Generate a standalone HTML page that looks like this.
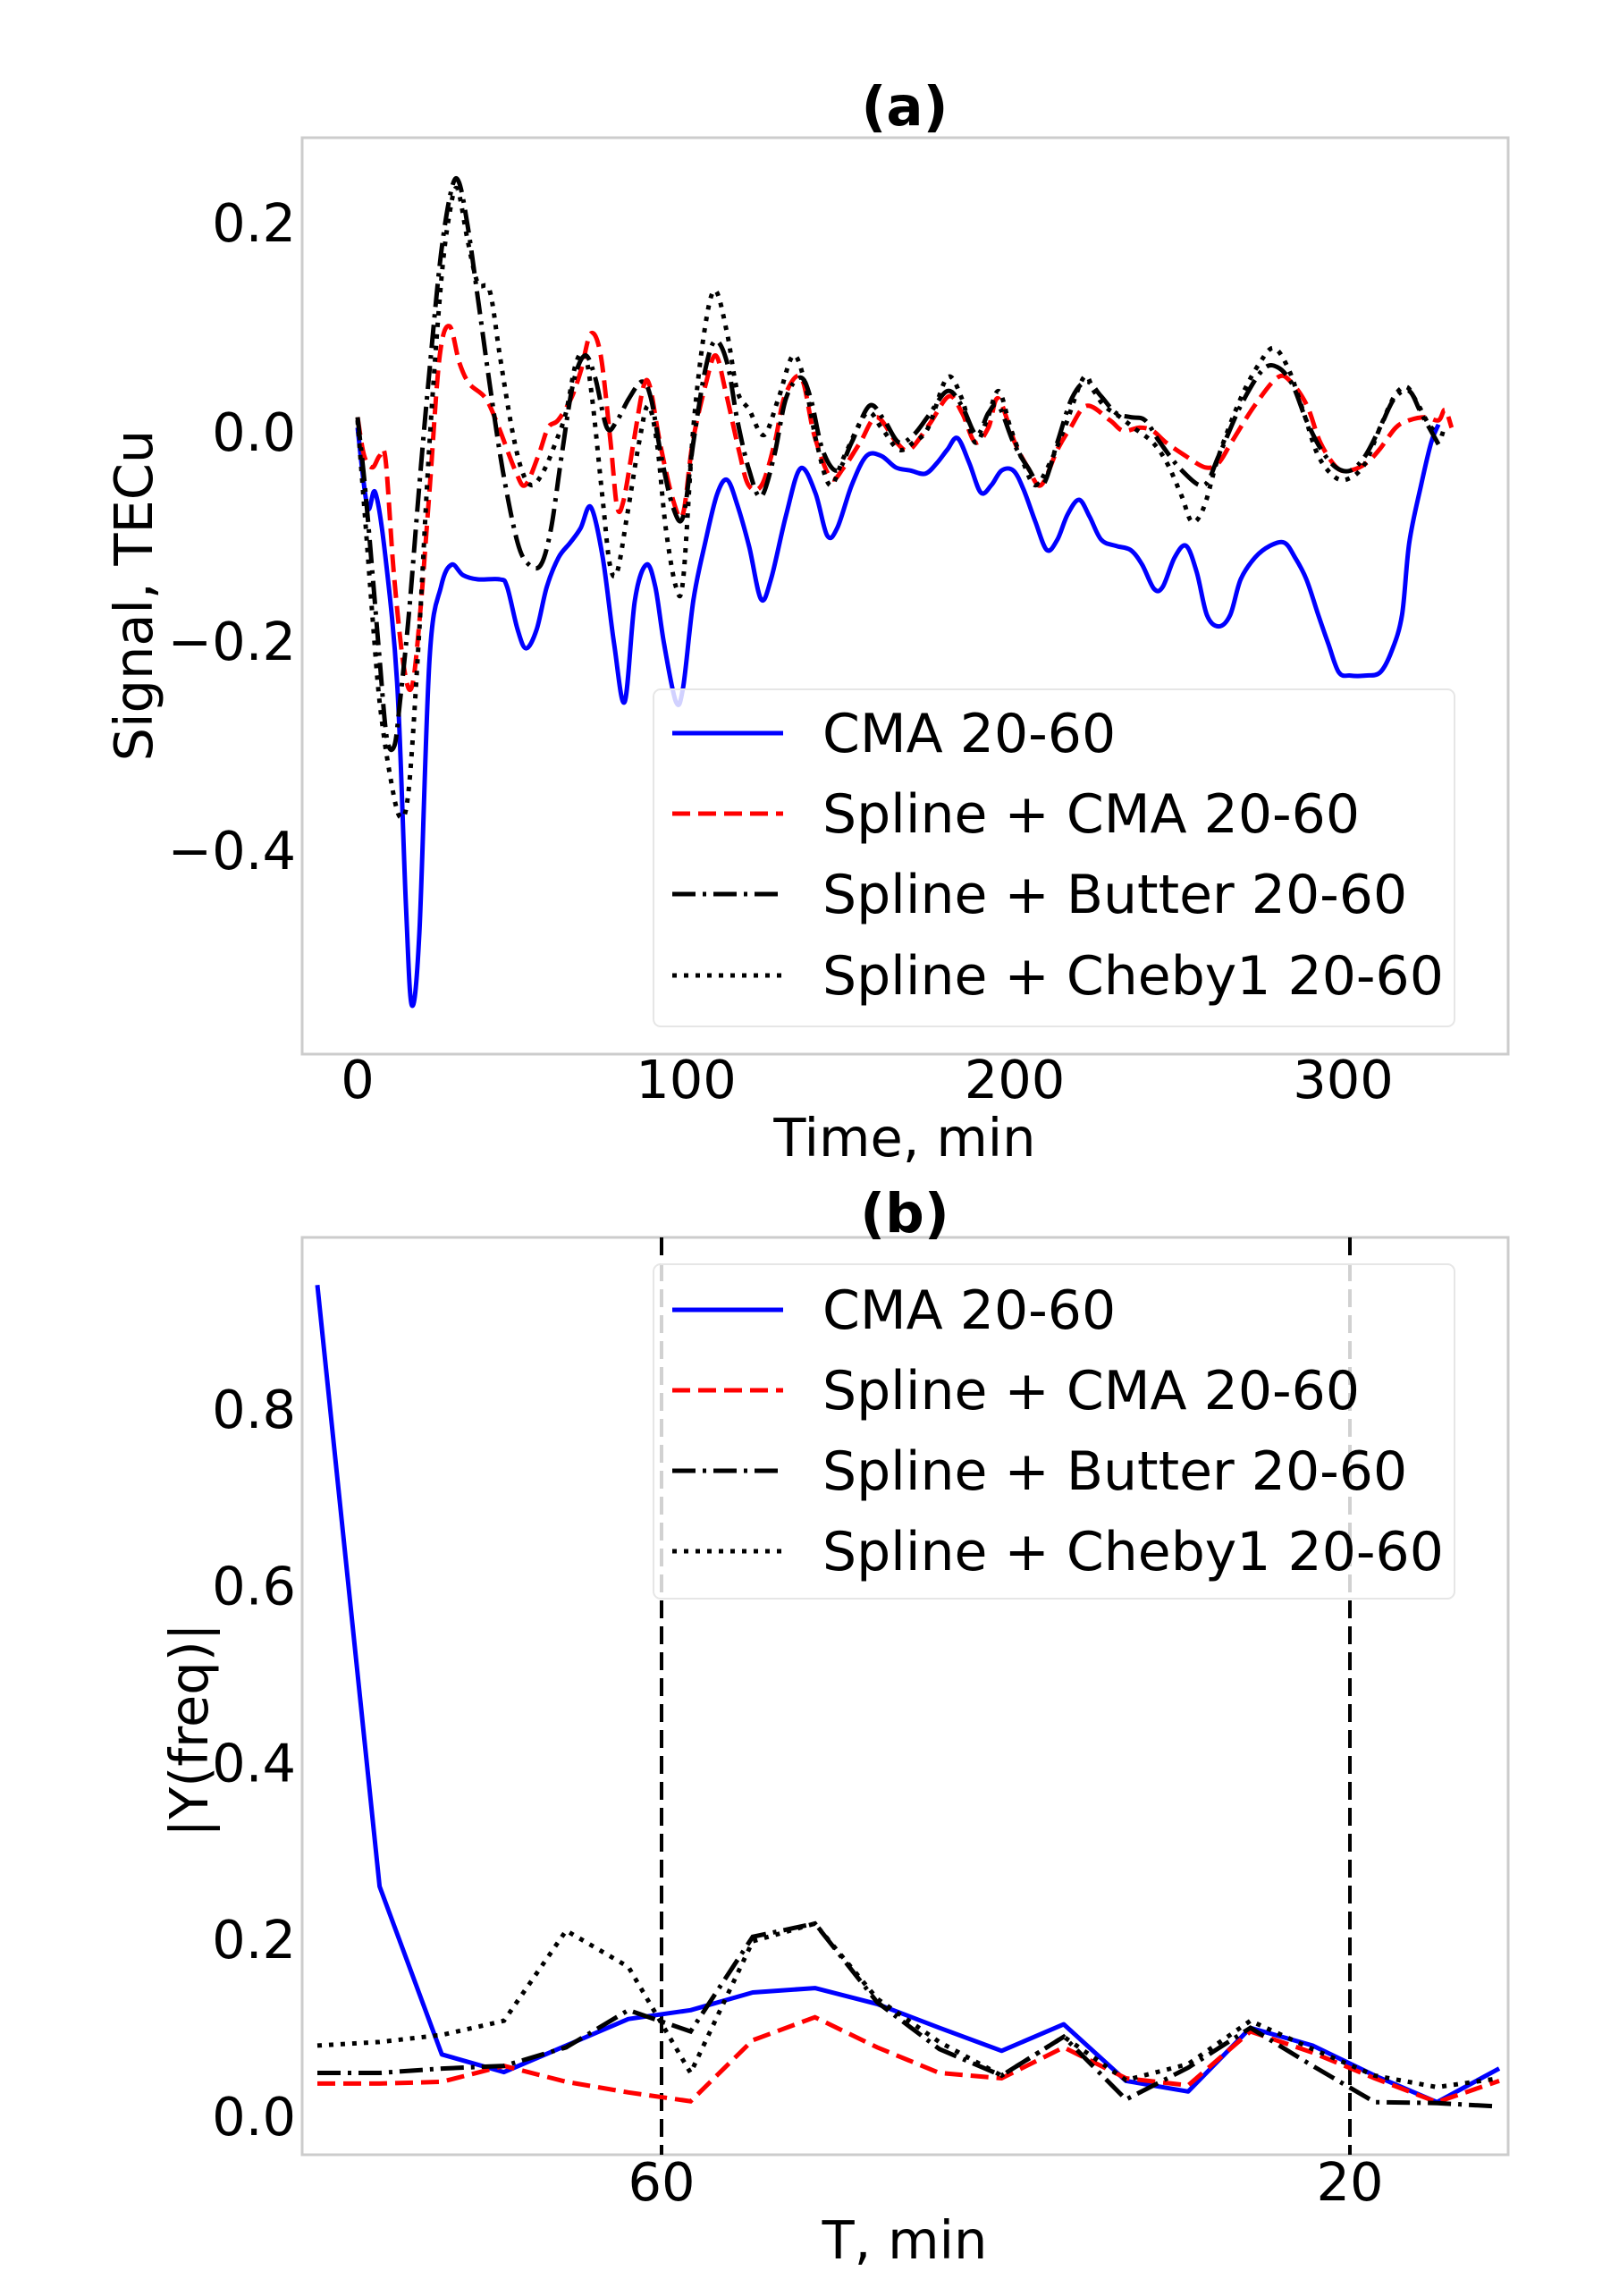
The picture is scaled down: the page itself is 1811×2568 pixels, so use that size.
<!DOCTYPE html>
<html><head><meta charset="utf-8"><style>
html,body{margin:0;padding:0;background:#fff;}
svg{display:block;}
text{font-family:"DejaVu Sans","Liberation Sans",sans-serif;fill:#000;}
</style></head><body>
<svg id="fig" width="1811" height="2568" viewBox="0 0 1811 2568" xmlns="http://www.w3.org/2000/svg">
<defs>
<clipPath id="clipA"><rect x="338" y="154" width="1349" height="1025"/></clipPath>
<clipPath id="clipB"><rect x="338" y="1384" width="1349" height="1026"/></clipPath>
</defs>
<rect width="1811" height="2568" fill="#fff"/>
<g id="panelA"></g>
<g id="panelB"></g>
</svg>
<script>
// ---------- Panel (a) data ----------
const cmaT=[0,3,5.4,8.5,12.1,14.7,16.5,18.8,21.9,25.4,28.6,32.1,36.6,43.3,45.5,48.7,51.3,54.5,57.6,61.2,64.7,67.9,71,74.6,78.1,81.3,84.4,87.9,90.6,93.3,96.9,99.1,102.2,105.8,109.4,112.5,115.6,119.2,122.8,125.9,130.4,134.8,139.3,142.9,146,150.4,154.9,159.4,163.8,168.3,172.8,176.3,179.5,182.6,186.2,189.7,192.9,196,199.6,202.7,206.3,209.8,213,216.1,219.6,222.8,226.3,230.8,235.3,238.8,242.4,245.1,248.7,252.2,255.4,258.5,262.1,265.6,268.8,273.2,277.7,282.1,285.3,288.8,292.4,295.5,298.7,302.2,306.7,311.2,314.7,317.9,320.1,323.7,326.8,329];
const cmaV=[0.004,-0.072,-0.058,-0.12,-0.244,-0.451,-0.548,-0.479,-0.217,-0.148,-0.127,-0.137,-0.141,-0.141,-0.148,-0.189,-0.207,-0.189,-0.148,-0.12,-0.106,-0.092,-0.072,-0.12,-0.203,-0.258,-0.161,-0.127,-0.148,-0.203,-0.258,-0.244,-0.161,-0.106,-0.06,-0.046,-0.07,-0.11,-0.16,-0.14,-0.08,-0.035,-0.058,-0.099,-0.092,-0.051,-0.023,-0.023,-0.034,-0.037,-0.04,-0.03,-0.017,-0.006,-0.03,-0.058,-0.051,-0.037,-0.037,-0.055,-0.086,-0.113,-0.103,-0.079,-0.065,-0.081,-0.103,-0.109,-0.113,-0.127,-0.15,-0.148,-0.12,-0.109,-0.134,-0.175,-0.186,-0.175,-0.141,-0.12,-0.109,-0.106,-0.12,-0.141,-0.175,-0.203,-0.23,-0.233,-0.233,-0.23,-0.21,-0.175,-0.106,-0.051,-0.01,0.007];
const splT=[0,2,4.5,6.7,8.5,11,14,16.5,19,22,25,28,31,34,39,43,48,51,55,58,61,65,68,71,74,77,79,81,84,87,89,92,96,99,102,106,109,112,116,119,123,127,130,135,139,144,148,153,158,164,168,174,180,184,188,192,195,200,204,208,213,217,222,229,233,238,242,246,252,258,262,266,273,280,284,289,293,298,302,307,311,316,320,325,329,331,333];
const splV=[0.014,-0.023,-0.034,-0.023,-0.026,-0.134,-0.223,-0.244,-0.175,-0.051,0.073,0.101,0.066,0.046,0.032,0.004,-0.037,-0.051,-0.023,0.004,0.011,0.032,0.059,0.094,0.073,-0.01,-0.072,-0.065,-0.01,0.043,0.043,-0.01,-0.065,-0.079,-0.01,0.046,0.073,0.039,-0.017,-0.051,-0.051,-0.01,0.034,0.052,-0.003,-0.044,-0.034,-0.01,0.014,-0.01,-0.017,0.007,0.034,0.018,-0.01,0.004,0.032,-0.01,-0.034,-0.051,-0.017,0.004,0.025,0.011,0.001,0.004,0.001,-0.01,-0.023,-0.034,-0.03,-0.01,0.025,0.052,0.048,0.025,-0.01,-0.034,-0.037,-0.03,-0.017,0.004,0.011,0.014,0.011,0.021,0.004];
const butT=[0,2.2,4.5,6.7,8.9,11.2,12.9,15.6,18.8,21.9,25.4,28.6,30.8,33.5,36.6,40.2,44.2,48.7,52.2,55.8,58.9,62.1,65.6,69.2,72.3,75.9,79,82.6,86.6,89.3,92.4,96,99.1,102.2,105.8,108.9,112.5,115.6,119.2,122.8,126.8,130.4,134.8,137.9,141.5,146,150.4,155.8,160.3,164.7,169.2,173.7,179.5,183.9,188.4,192,195.1,199.6,204,208.5,213,217.4,221.9,226.3,230.8,235.3,239.7,244.2,250.9,257.6,262.1,268.8,275.4,279.9,284.4,288.8,293.3,297.8,302.2,306.7,311.2,315.6,320.1,323.7,329];
const butV=[0.014,-0.051,-0.134,-0.217,-0.293,-0.3,-0.258,-0.175,-0.051,0.059,0.170,0.232,0.239,0.197,0.128,0.046,-0.037,-0.106,-0.127,-0.127,-0.092,-0.023,0.046,0.073,0.052,0.004,0.011,0.032,0.048,0.032,-0.023,-0.072,-0.081,-0.01,0.059,0.087,0.066,0.011,-0.037,-0.062,-0.023,0.032,0.052,0.032,-0.017,-0.037,-0.01,0.025,0.011,-0.01,-0.003,0.015,0.039,0.025,-0.003,0.018,0.025,-0.01,-0.034,-0.051,-0.01,0.032,0.048,0.034,0.018,0.014,0.011,-0.01,-0.037,-0.051,-0.023,0.025,0.059,0.062,0.046,0.011,-0.017,-0.034,-0.037,-0.023,0.004,0.032,0.039,0.018,-0.012];
const chbT=[0,2.2,4.5,6.7,9.8,12.9,15.6,18.8,21.9,25.4,28.1,30.4,33.5,36.6,40.2,43.3,46.9,50,53.1,56.7,60.3,63.4,66.5,69.2,71.4,74.6,76.8,79,82.1,85.7,88.4,91.1,93.8,96.9,99.1,102.2,105.8,108.9,112.5,115.6,119.2,123.7,128.1,132.6,136.2,139.7,143.8,148.2,154.9,159.4,164.7,169.2,173.7,179.5,183.9,187.9,191.5,195.1,198.7,202.7,206.3,210.7,215.2,221,224.1,227.2,231.7,236.2,242,246.4,250.9,254,257.6,262.1,268.8,274.6,279,283.5,288,292.4,297.8,302.2,306.7,311.2,315.6,319.2,322.3,326.8,331.3];
const chbV=[0.011,-0.079,-0.175,-0.258,-0.327,-0.368,-0.341,-0.189,-0.01,0.142,0.211,0.232,0.183,0.142,0.135,0.073,0.004,-0.037,-0.051,-0.037,-0.01,0.018,0.066,0.073,0.032,-0.065,-0.127,-0.134,-0.079,-0.01,0.025,-0.01,-0.092,-0.148,-0.141,0.004,0.101,0.135,0.094,0.039,0.021,-0.003,0.032,0.073,0.046,-0.01,-0.051,-0.023,0.018,0.004,-0.017,-0.01,0.004,0.052,0.032,-0.01,0.011,0.039,0.004,-0.03,-0.051,-0.03,0.004,0.052,0.039,0.025,0.015,0.004,-0.01,-0.03,-0.062,-0.086,-0.072,-0.023,0.032,0.066,0.08,0.059,0.018,-0.023,-0.044,-0.044,-0.03,0.004,0.034,0.043,0.029,0.004,-0.003];
const aXTicks=[0,100,200,300];
const aYTicks=[0.2,0.0,-0.2,-0.4];
const aYTickLabels=["0.2","0.0","\u22120.2","\u22120.4"];
// ---------- Panel (b) data ----------
const bIndex=[0,1,2,3,4,5,6,7,8,9,10,11,12,13,14,15,16,17,18,19];
const bDuration=332;
const bCMA=[0.94,0.26,0.07,0.05,0.08,0.11,0.12,0.14,0.145,0.127,0.10,0.074,0.104,0.04,0.028,0.10,0.08,0.046,0.016,0.054];
const bSplCMA=[0.037,0.037,0.039,0.057,0.039,0.027,0.017,0.086,0.112,0.078,0.049,0.043,0.078,0.043,0.035,0.096,0.072,0.043,0.016,0.04];
const bButter=[0.049,0.049,0.054,0.057,0.078,0.12,0.096,0.203,0.218,0.129,0.076,0.046,0.09,0.019,0.055,0.10,0.057,0.016,0.015,0.011];
const bCheby=[0.08,0.084,0.092,0.108,0.21,0.169,0.049,0.198,0.218,0.133,0.084,0.046,0.09,0.041,0.059,0.108,0.076,0.046,0.033,0.043];
const bYTicks=[0.0,0.2,0.4,0.6,0.8];
const bXTicksPeriod=[60,20];
const bVLines=[60,20];

const NS="http://www.w3.org/2000/svg";
function mk(tag,attrs,parent){const e=document.createElementNS(NS,tag);for(const k in attrs)e.setAttribute(k,attrs[k]);parent.appendChild(e);return e;}
function txt(str,attrs,parent){const e=mk('text',attrs,parent);e.textContent=str;return e;}

const styles={
 blue:{stroke:'#0000ff','stroke-width':5,fill:'none','stroke-linejoin':'round'},
 red:{stroke:'#ff0000','stroke-width':5,fill:'none','stroke-dasharray':'20 9'},
 dashdot:{stroke:'#000','stroke-width':5,fill:'none','stroke-dasharray':'26 8 4 8'},
 dot:{stroke:'#000','stroke-width':5,fill:'none','stroke-dasharray':'5 8'}
};
function pathD(xs,ys,fx,fy){return xs.map((x,i)=>(i?'L':'M')+fx(x).toFixed(1)+' '+fy(ys[i]).toFixed(1)).join(' ');}
function smoothD(xs,ys,fx,fy){
 const P=xs.map((x,i)=>[fx(x),fy(ys[i])]);
 let d='M'+P[0][0].toFixed(1)+' '+P[0][1].toFixed(1);
 for(let i=0;i<P.length-1;i++){
  const p0=P[Math.max(i-1,0)],p1=P[i],p2=P[i+1],p3=P[Math.min(i+2,P.length-1)];
  const c1=[p1[0]+(p2[0]-p0[0])/6,p1[1]+(p2[1]-p0[1])/6];
  const c2=[p2[0]-(p3[0]-p1[0])/6,p2[1]-(p3[1]-p1[1])/6];
  d+=' C'+c1[0].toFixed(1)+' '+c1[1].toFixed(1)+' '+c2[0].toFixed(1)+' '+c2[1].toFixed(1)+' '+p2[0].toFixed(1)+' '+p2[1].toFixed(1);
 }
 return d;
}

// ===== Panel A =====
const A=document.getElementById('panelA');
const ax=t=>400+t*3.675;
const ay=v=>483-v*1170;
let e;
e=mk('rect',{x:338,y:154,width:1349,height:1025,fill:'none',stroke:'#cccccc','stroke-width':3},A);


const gA=mk('g',{'clip-path':'url(#clipA)'},A);


[[cmaT,cmaV,'blue','line-cma'],[splT,splV,'red','line-spline-cma'],[butT,butV,'dashdot','line-spline-butter'],[chbT,chbV,'dot','line-spline-cheby1']].forEach(s=>{
 const p=mk('path',Object.assign({d:smoothD(s[0],s[1],ax,ay)},styles[s[2]]),gA);
 
 
});
aXTicks.forEach(t=>{
 const l=txt(String(t),{x:ax(t),y:1228,'font-size':59,'text-anchor':'middle'},A);
 
 
});
aYTicks.forEach((v,i)=>{
 const l=txt(aYTickLabels[i],{x:331,y:ay(v)+21,'font-size':59,'text-anchor':'end'},A);
 
 
});
e=txt('(a)',{x:1012,y:140,'font-size':61,'font-weight':'bold','text-anchor':'middle'},A);

e=txt('Time, min',{x:1012,y:1293,'font-size':59,'text-anchor':'middle'},A);

e=txt('Signal, TECu',{x:0,y:0,'font-size':59,'text-anchor':'middle',transform:'translate(170,666) rotate(-90)'},A);


const legendLabels=['CMA 20-60','Spline + CMA 20-60','Spline + Butter 20-60','Spline + Cheby1 20-60'];
const legendStyles=['blue','red','dashdot','dot'];
function legend(parent,x,y,w,h,rows,name){
 const g=mk('g',{},parent);
 
 
 mk('rect',{x:x,y:y,width:w,height:h,rx:8,fill:'#fff','fill-opacity':0.82,stroke:'#e6e6e6','stroke-width':2},g);
 rows.forEach((ry,i)=>{
  const ln=mk('line',Object.assign({x1:752,x2:876,y1:ry,y2:ry},styles[legendStyles[i]]),g);
  
  
  const t=txt(legendLabels[i],{x:920,y:ry+21,'font-size':60},g);
  
  
 });
}
legend(A,731,771,896,377,[820,910,1000,1091],'legend-a');

// ===== Panel B =====
const B=document.getElementById('panelB');
const bx=f=>355+f*23100;
const by=v=>2367-v*989;
e=mk('rect',{x:338,y:1384,width:1349,height:1026,fill:'none',stroke:'#cccccc','stroke-width':3},B);

const gB=mk('g',{'clip-path':'url(#clipB)'},B);


bVLines.forEach(T=>{
 const l=mk('line',{x1:bx(1/T),x2:bx(1/T),y1:1384,y2:2410,stroke:'#000','stroke-width':4,'stroke-dasharray':'20 9'},gB);
 
 
});
const freqs=bIndex.map(k=>k/bDuration);
[[bCMA,'blue','spectrum-cma'],[bSplCMA,'red','spectrum-spline-cma'],[bButter,'dashdot','spectrum-spline-butter'],[bCheby,'dot','spectrum-spline-cheby1']].forEach(s=>{
 const p=mk('path',Object.assign({d:pathD(freqs,s[0],bx,by)},styles[s[1]]),gB);
 
 
});
bYTicks.forEach(v=>{
 const l=txt(v.toFixed(1),{x:331,y:by(v)+21,'font-size':59,'text-anchor':'end'},B);
 
 
});
bXTicksPeriod.forEach(T=>{
 const l=txt(String(T),{x:bx(1/T),y:2461,'font-size':59,'text-anchor':'middle'},B);
 
 
});
e=txt('(b)',{x:1012,y:1378,'font-size':61,'font-weight':'bold','text-anchor':'middle'},B);

e=txt('T, min',{x:1012,y:2526,'font-size':59,'text-anchor':'middle'},B);

e=txt('|Y(freq)|',{x:0,y:0,'font-size':59,'text-anchor':'middle',transform:'translate(232,1935) rotate(-90)'},B);

legend(B,731,1414,896,374,[1465,1555,1645,1735],'legend-b');
</script>
</body></html>
